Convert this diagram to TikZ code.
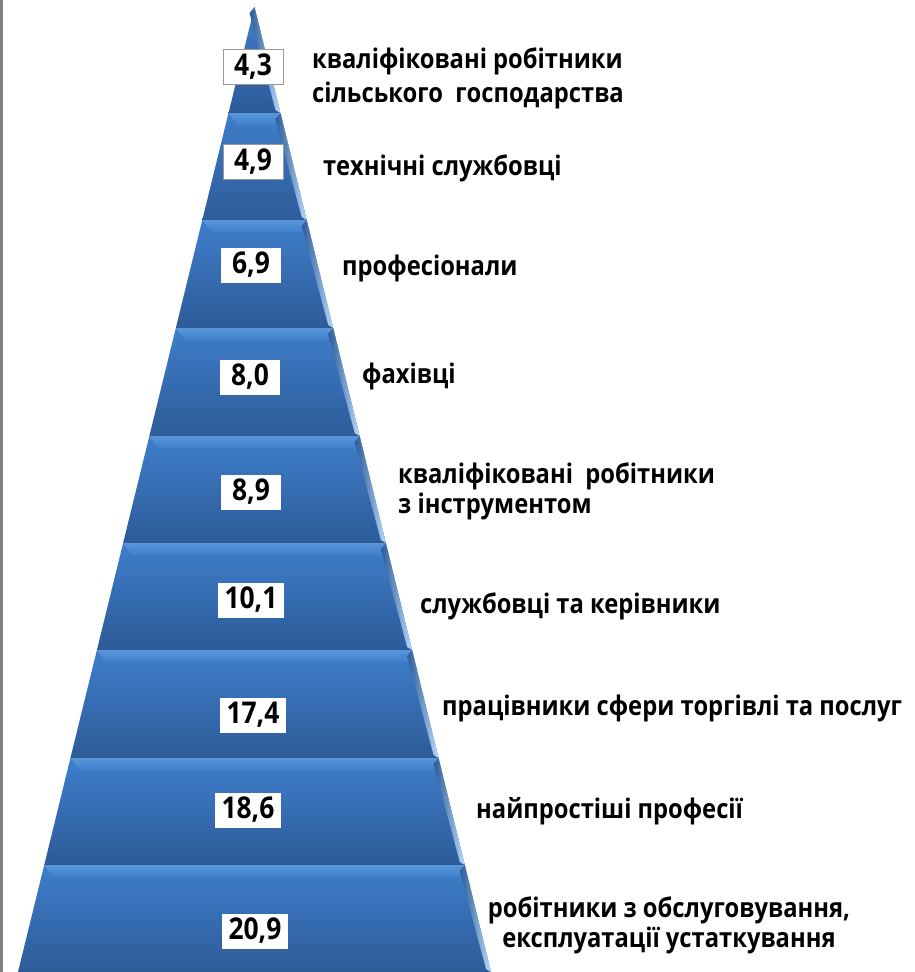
\documentclass[tikz,border=0pt]{standalone}
\usepackage{fontspec}
\newfontfamily\labelfont{Open Sans}[FakeStretch=0.88]
\definecolor{layertop}{HTML}{3E7ECB}
\definecolor{layerbot}{HTML}{2D5B98}
\definecolor{bevellight}{HTML}{9ACCFA}
\definecolor{edgegray}{HTML}{808080}
\tikzset{
  numbox/.style={fill=white, font=\labelfont\bfseries\fontsize{30}{34}\selectfont,
    minimum width=60pt, minimum height=35pt, inner xsep=7pt, inner ysep=2pt},
  framedbox/.style={numbox, draw=gray!80, line width=1pt},
  lbl/.style={font=\labelfont\bfseries\fontsize{27}{30}\selectfont, inner sep=0pt, anchor=base west, align=left},
}
\begin{document}
\begin{tikzpicture}[x=1pt, y=-1pt]
  \useasboundingbox (0,0) rectangle (915,972);
  % Frame edge on the left
  \fill[edgegray] (0,0) rectangle (3,972);

  % Pyramid layers
  \foreach \yt/\yb [count=\i] in {7/113, 113/220, 220/328, 328/436, 436/543, 543/650, 650/758, 758/865, 865/972}{
    \pgfmathsetmacro\lt{254.5-0.24508*(\yt-7)}
    \pgfmathsetmacro\rt{254.5+0.24508*(\yt-7)}
    \pgfmathsetmacro\lb{254.5-0.24508*(\yb-7)}
    \pgfmathsetmacro\rb{254.5+0.24508*(\yb-7)}
    \pgfmathsetmacro\lm{254.5-0.24508*(\yt+12-7)+12}
    \pgfmathsetmacro\rm{254.5+0.24508*(\yt+12-7)-6}
    \shade[top color=layertop, bottom color=layerbot]
      (\lt,\yt) -- (\rt,\yt) -- (\rb,\yb) -- (\lb,\yb) -- cycle;
    \ifnum\i>1
      \shade[top color=layertop!70!bevellight, middle color=bevellight, bottom color=layertop]
        (\lt,\yt) -- (\rt,\yt) -- (\rm,\yt+12) -- (\lm,\yt+12) -- cycle;
    \fi
    % Right bevel
    \shade[left color=layerbot, right color=bevellight!70!white]
      (\rt,\yt) -- (\rb,\yb) -- (\rb-5,\yb-3) -- (\rt-5,\yt+6) -- cycle;
  }

  % Values
  \node[framedbox] (n1) at (253,67) {4,3};
  \node[framedbox] (n2) at (253,162) {4,9};
  \node[numbox] (n3) at (251,265) {6,9};
  \node[numbox] (n4) at (250,377) {8,0};
  \node[numbox] (n5) at (251,492) {8,9};
  \node[numbox] (n6) at (251,600) {10,1};
  \node[numbox] (n7) at (253,715) {17,4};
  \node[numbox] (n8) at (248,810) {18,6};
  \node[numbox] (n9) at (255,931) {20,9};

  % Labels
  \node[lbl] (l1) at (312,102) {кваліфіковані робітники\\[4pt]сільського\ \ господарства};
  \node[lbl] (l2) at (323,175) {технічні службовці};
  \node[lbl] (l3) at (342,275) {професіонали};
  \node[lbl] (l4) at (362,383) {фахівці};
  \node[lbl] (l5) at (398,513) {кваліфіковані\ \ робітники\\з інструментом};
  \node[lbl] (l6) at (420,613) {службовці та керівники};
  \node[lbl] (l7) at (442,715) {працівники сфери торгівлі та послуг};
  \node[lbl] (l8) at (476,818) {найпростіші професії};
  \node[lbl, anchor=base, align=center] (l9) at (669,947) {робітники з обслуговування,\\експлуатації устаткування};
\end{tikzpicture}
\end{document}
